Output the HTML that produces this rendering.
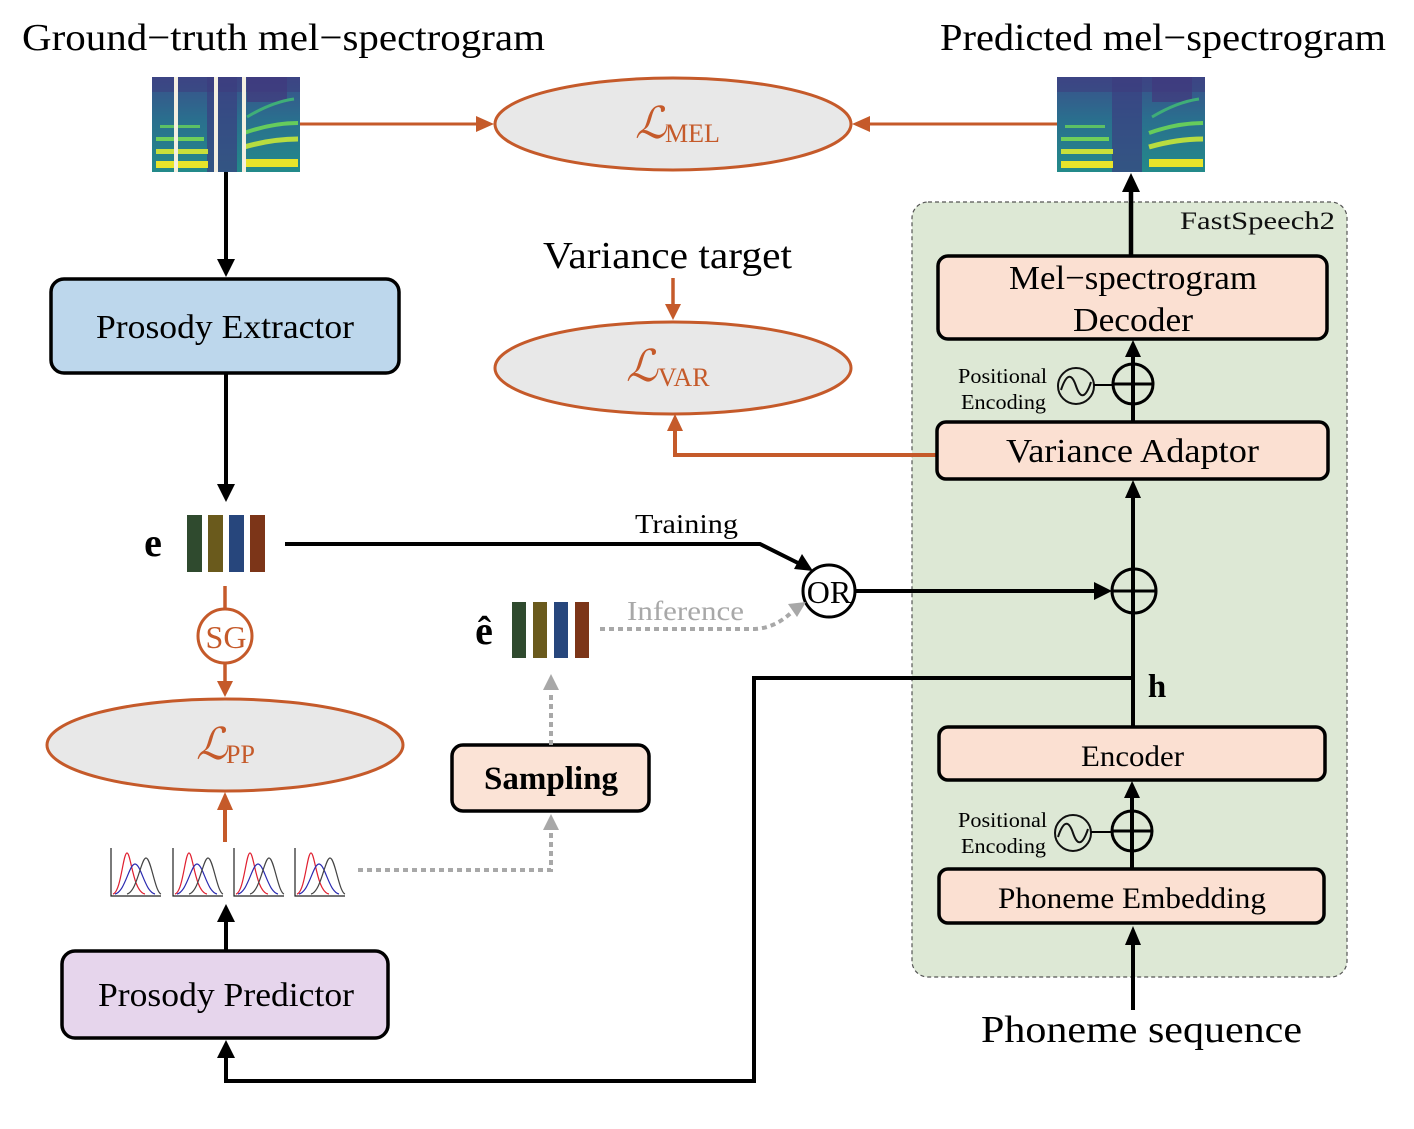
<!DOCTYPE html>
<html><head><meta charset="utf-8">
<style>
html,body{margin:0;padding:0;background:#fff;}
svg{display:block;font-family:"Liberation Serif",serif;}
</style></head>
<body>
<svg width="1414" height="1129" viewBox="0 0 1414 1129" xmlns="http://www.w3.org/2000/svg">
<defs>
  <linearGradient id="spbg" x1="0" y1="0" x2="0" y2="1">
    <stop offset="0" stop-color="#3b4f8a"/>
    <stop offset="0.45" stop-color="#2a6f8e"/>
    <stop offset="1" stop-color="#238a8a"/>
  </linearGradient>
  <g id="spec">
    <rect x="0" y="0" width="148" height="95" fill="url(#spbg)"/>
    <rect x="55" y="0" width="30" height="95" fill="#3a3f80" opacity="0.7"/>
    <rect x="95" y="0" width="40" height="25" fill="#45327a" opacity="0.6"/>
    <rect x="0" y="0" width="148" height="15" fill="#3d3a7e" opacity="0.5"/>
    <rect x="4" y="84" width="52" height="7" fill="#e8e42a"/>
    <rect x="4" y="72" width="52" height="5" fill="#c8df3a"/>
    <rect x="4" y="60" width="48" height="4" fill="#6fcf5a"/>
    <rect x="8" y="48" width="40" height="3" fill="#5cc065"/>
    <rect x="92" y="82" width="54" height="8" fill="#e8e42a"/>
    <path d="M92 70 Q120 62 146 62" stroke="#b8dc40" stroke-width="5" fill="none"/>
    <path d="M92 56 Q120 46 146 46" stroke="#66cc5c" stroke-width="4" fill="none"/>
    <path d="M95 40 Q120 25 142 22" stroke="#3fae78" stroke-width="3" fill="none"/>
  </g>
  <g id="dist">
    <path d="M0 0 V48 H50" stroke="#222" stroke-width="1.2" fill="none"/>
    <path d="M2 46 C10 44 12 5 16 5 C20 5 22 44 34 46" stroke="#e02030" stroke-width="1.2" fill="none"/>
    <path d="M4 46 C14 44 18 16 24 16 C30 16 34 44 44 46" stroke="#2a2ab0" stroke-width="1.2" fill="none"/>
    <path d="M16 46 C26 44 30 10 35 10 C40 10 44 44 50 46" stroke="#444" stroke-width="1.2" fill="none"/>
  </g>
  <g id="pe">
    <circle cx="0" cy="0" r="18" fill="none" stroke="#111" stroke-width="2"/>
    <path d="M-15 4 C-9 -14 -4 -12 0 0 C4 12 9 14 15 -4" fill="none" stroke="#111" stroke-width="2"/>
  </g>
</defs>

<rect x="912" y="202" width="435" height="775" rx="16" fill="#dde8d5" stroke="#555" stroke-width="1.2" stroke-dasharray="4,3"/>
<text x="1180" y="229" font-size="25" textLength="155" lengthAdjust="spacingAndGlyphs" fill="#111">FastSpeech2</text>

<text x="22" y="50" font-size="38" textLength="523" lengthAdjust="spacingAndGlyphs" fill="#000">Ground−truth mel−spectrogram</text>
<text x="940" y="50" font-size="38" textLength="446" lengthAdjust="spacingAndGlyphs" fill="#000">Predicted mel−spectrogram</text>

<use href="#spec" x="152" y="77"/>
<rect x="174" y="77" width="4" height="95" fill="#f4efe0"/>
<rect x="214" y="77" width="4" height="95" fill="#f4efe0"/>
<rect x="242" y="77" width="4" height="95" fill="#f4efe0"/>
<use href="#spec" x="1057" y="77"/>

<ellipse cx="673" cy="124" rx="178" ry="46" fill="#e8e8e8" stroke="#c55a2a" stroke-width="3"/>
<text x="635" y="138" font-size="44" font-style="italic" fill="#c55a2a">ℒ</text>
<text x="665" y="142" font-size="26" fill="#c55a2a">MEL</text>
<line x1="300" y1="124" x2="480" y2="124" stroke="#c55a2a" stroke-width="3"/>
<path d="M494 124 L476 116 L476 132 Z" fill="#c55a2a"/>
<line x1="1057" y1="124" x2="866" y2="124" stroke="#c55a2a" stroke-width="3"/>
<path d="M852 124 L870 116 L870 132 Z" fill="#c55a2a"/>

<line x1="226" y1="172" x2="226" y2="262" stroke="#000" stroke-width="4"/>
<path d="M226 277 L217 259 L235 259 Z" fill="#000"/>
<rect x="51" y="279" width="348" height="94" rx="13" fill="#bdd7ec" stroke="#000" stroke-width="3.5"/>
<text x="96" y="338" font-size="34" textLength="258" lengthAdjust="spacingAndGlyphs">Prosody Extractor</text>
<line x1="226" y1="373" x2="226" y2="486" stroke="#000" stroke-width="4"/>
<path d="M226 502 L217 484 L235 484 Z" fill="#000"/>

<text x="153" y="556" font-size="40" font-weight="bold" text-anchor="middle">e</text>
<rect x="187" y="515" width="15" height="57" fill="#2f4a2e"/>
<rect x="208" y="515" width="15" height="57" fill="#6a5a1c"/>
<rect x="229" y="515" width="15" height="57" fill="#27467c"/>
<rect x="250" y="515" width="15" height="57" fill="#7c3518"/>

<text x="635" y="533" font-size="27" textLength="103" lengthAdjust="spacingAndGlyphs">Training</text>
<path d="M285 544 H760 L800 564" fill="none" stroke="#000" stroke-width="4"/>
<path d="M813 571 L794 569 L802 554 Z" fill="#000"/>
<circle cx="829" cy="591" r="26" fill="#fff" stroke="#000" stroke-width="3"/>
<text x="829" y="603" font-size="32" text-anchor="middle">OR</text>
<line x1="856" y1="591" x2="1096" y2="591" stroke="#000" stroke-width="4"/>
<path d="M1112 591 L1094 582 L1094 600 Z" fill="#000"/>

<line x1="225" y1="586" x2="225" y2="609" stroke="#c55a2a" stroke-width="3.5"/>
<circle cx="225" cy="636" r="27" fill="#fff" stroke="#c55a2a" stroke-width="3"/>
<text x="226" y="648" font-size="32" text-anchor="middle" fill="#c55a2a">SG</text>
<line x1="225" y1="663" x2="225" y2="683" stroke="#c55a2a" stroke-width="3.5"/>
<path d="M225 697 L217 681 L233 681 Z" fill="#c55a2a"/>
<ellipse cx="225" cy="745" rx="178" ry="46" fill="#e8e8e8" stroke="#c55a2a" stroke-width="3"/>
<text x="196" y="759" font-size="44" font-style="italic" fill="#c55a2a">ℒ</text>
<text x="226" y="763" font-size="26" fill="#c55a2a">PP</text>
<line x1="225" y1="842" x2="225" y2="808" stroke="#c55a2a" stroke-width="4"/>
<path d="M225 792 L217 810 L233 810 Z" fill="#c55a2a"/>

<use href="#dist" x="111" y="848"/>
<use href="#dist" x="173" y="848"/>
<use href="#dist" x="234" y="848"/>
<use href="#dist" x="295" y="848"/>

<path d="M358 870 H551 V832" fill="none" stroke="#a8a8a8" stroke-width="4" stroke-dasharray="5,4"/>
<path d="M551 814 L543 830 L559 830 Z" fill="#a8a8a8"/>
<rect x="452" y="745" width="197" height="66" rx="11" fill="#fbe3d6" stroke="#000" stroke-width="3.5"/>
<text x="484" y="789" font-size="33" font-weight="bold" textLength="134" lengthAdjust="spacingAndGlyphs">Sampling</text>
<path d="M551 745 V692" fill="none" stroke="#a8a8a8" stroke-width="4" stroke-dasharray="5,4"/>
<path d="M551 674 L543 690 L559 690 Z" fill="#a8a8a8"/>

<text x="484" y="644" font-size="40" font-weight="bold" text-anchor="middle">ê</text>
<rect x="512" y="602" width="14" height="56" fill="#2f4a2e"/>
<rect x="533" y="602" width="14" height="56" fill="#6a5a1c"/>
<rect x="554" y="602" width="14" height="56" fill="#27467c"/>
<rect x="575" y="602" width="14" height="56" fill="#7c3518"/>
<text x="627" y="620" font-size="27" fill="#a8a8a8" textLength="117" lengthAdjust="spacingAndGlyphs">Inference</text>
<path d="M600 629 H755 Q775 628 792 612" fill="none" stroke="#a8a8a8" stroke-width="4" stroke-dasharray="5,4"/>
<path d="M806 602 L788 604 L797 617 Z" fill="#a8a8a8"/>

<line x1="226" y1="950" x2="226" y2="920" stroke="#000" stroke-width="4"/>
<path d="M226 904 L217 922 L235 922 Z" fill="#000"/>
<rect x="62" y="951" width="326" height="87" rx="13" fill="#e6d5ec" stroke="#000" stroke-width="3.5"/>
<text x="98" y="1006" font-size="34" textLength="256" lengthAdjust="spacingAndGlyphs">Prosody Predictor</text>

<path d="M1133 678 H754 V1081 H226 V1056" fill="none" stroke="#000" stroke-width="4"/>
<path d="M226 1040 L217 1058 L235 1058 Z" fill="#000"/>
<text x="1157" y="697" font-size="33" font-weight="bold" text-anchor="middle">h</text>

<text x="543" y="268" font-size="38" textLength="249" lengthAdjust="spacingAndGlyphs">Variance target</text>
<line x1="673" y1="278" x2="673" y2="306" stroke="#c55a2a" stroke-width="3.5"/>
<path d="M673 320 L665 304 L681 304 Z" fill="#c55a2a"/>
<ellipse cx="673" cy="368" rx="178" ry="46" fill="#e8e8e8" stroke="#c55a2a" stroke-width="3"/>
<text x="626" y="381" font-size="44" font-style="italic" fill="#c55a2a">ℒ</text>
<text x="658" y="386" font-size="26" fill="#c55a2a">VAR</text>
<path d="M937 455 H675 V430" fill="none" stroke="#c55a2a" stroke-width="4"/>
<path d="M675 414 L667 431 L683 431 Z" fill="#c55a2a"/>

<line x1="1131" y1="256" x2="1131" y2="190" stroke="#000" stroke-width="4.5"/>
<path d="M1131 173 L1122 192 L1140 192 Z" fill="#000"/>
<rect x="938" y="256" width="389" height="83" rx="10" fill="#fbe0d2" stroke="#000" stroke-width="3.5"/>
<text x="1009" y="289" font-size="34" textLength="248" lengthAdjust="spacingAndGlyphs">Mel−spectrogram</text>
<text x="1073" y="331" font-size="34" textLength="120" lengthAdjust="spacingAndGlyphs">Decoder</text>

<line x1="1133" y1="422" x2="1133" y2="355" stroke="#000" stroke-width="4"/>
<path d="M1133 340 L1125 357 L1141 357 Z" fill="#000"/>
<circle cx="1133" cy="384" r="20" fill="none" stroke="#000" stroke-width="3"/>
<line x1="1113" y1="384" x2="1153" y2="384" stroke="#000" stroke-width="3"/>
<use href="#pe" x="1076" y="386"/>
<line x1="1094" y1="385" x2="1113" y2="385" stroke="#000" stroke-width="2"/>
<text x="958" y="383" font-size="21" textLength="89" lengthAdjust="spacingAndGlyphs">Positional</text>
<text x="961" y="409" font-size="21" textLength="85" lengthAdjust="spacingAndGlyphs">Encoding</text>

<rect x="937" y="422" width="391" height="57" rx="9" fill="#fbe0d2" stroke="#000" stroke-width="3.5"/>
<text x="1006" y="462" font-size="34" textLength="253" lengthAdjust="spacingAndGlyphs">Variance Adaptor</text>

<line x1="1133" y1="727" x2="1133" y2="497" stroke="#000" stroke-width="4"/>
<path d="M1133 480 L1125 498 L1141 498 Z" fill="#000"/>
<circle cx="1134" cy="591" r="22" fill="none" stroke="#000" stroke-width="3"/>
<line x1="1112" y1="591" x2="1156" y2="591" stroke="#000" stroke-width="3"/>

<rect x="939" y="727" width="386" height="53" rx="9" fill="#fbe0d2" stroke="#000" stroke-width="3.5"/>
<text x="1081" y="766" font-size="30" textLength="103" lengthAdjust="spacingAndGlyphs">Encoder</text>

<line x1="1132" y1="869" x2="1132" y2="797" stroke="#000" stroke-width="4"/>
<path d="M1132 781 L1124 798 L1140 798 Z" fill="#000"/>
<circle cx="1132" cy="831" r="20" fill="none" stroke="#000" stroke-width="3"/>
<line x1="1112" y1="831" x2="1152" y2="831" stroke="#000" stroke-width="3"/>
<use href="#pe" x="1073" y="833"/>
<line x1="1091" y1="832" x2="1112" y2="832" stroke="#000" stroke-width="2"/>
<text x="958" y="827" font-size="21" textLength="89" lengthAdjust="spacingAndGlyphs">Positional</text>
<text x="961" y="853" font-size="21" textLength="85" lengthAdjust="spacingAndGlyphs">Encoding</text>

<rect x="939" y="869" width="385" height="54" rx="9" fill="#fbe0d2" stroke="#000" stroke-width="3.5"/>
<text x="998" y="908" font-size="30" textLength="268" lengthAdjust="spacingAndGlyphs">Phoneme Embedding</text>

<line x1="1133" y1="1010" x2="1133" y2="944" stroke="#000" stroke-width="4"/>
<path d="M1133 926 L1125 945 L1141 945 Z" fill="#000"/>
<text x="981" y="1042" font-size="38" textLength="321" lengthAdjust="spacingAndGlyphs">Phoneme sequence</text>
</svg>
</body></html>
